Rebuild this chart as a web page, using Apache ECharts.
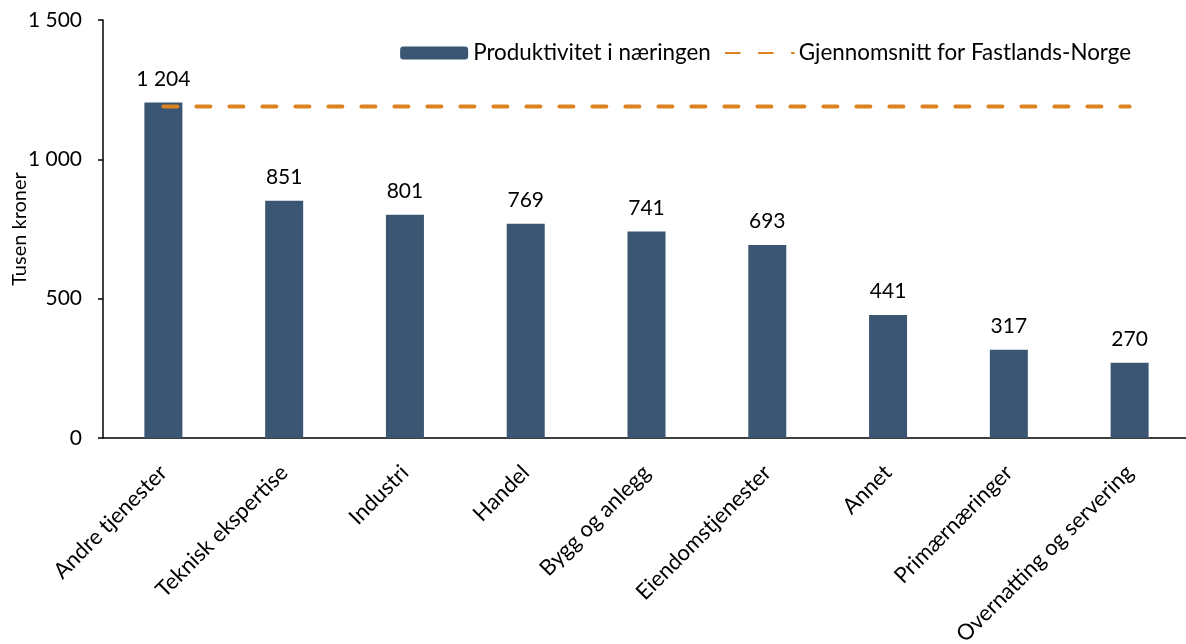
<!DOCTYPE html>
<html>
<head>
<meta charset="utf-8">
<script src="https://cdn.jsdelivr.net/npm/echarts@6/dist/echarts.min.js"></script>
<style>
  html, body { margin: 0; padding: 0; background: #fff; }
  #chart { width: 1186px; height: 644px; }
</style>
</head>
<body>
<div id="chart"></div>
<script>
// kategorier og verdier (tusen kroner)
const categories = ['Andre tjenester', 'Teknisk ekspertise', 'Industri', 'Handel', 'Bygg og anlegg',
  'Eiendomstjenester', 'Annet', 'Primærnæringer', 'Overnatting og servering']
const productivity = [1204, 851, 801, 769, 741, 693, 441, 317, 270]
const mainlandAvg = [1190, 1190, 1190, 1190, 1190, 1190, 1190, 1190, 1190]

const FONT = 'Lato'
const fmt = v => String(v).replace(/\B(?=(\d{3})+(?!\d))/g, ' ')

const chart = echarts.init(document.getElementById('chart'))

chart.setOption({
  animation: false,
  textStyle: { fontFamily: FONT, color: '#000' },
  legend: {
    top: 37,
    right: 50,
    itemWidth: 68,
    itemHeight: 13,
    itemGap: 14,
    textStyle: { fontSize: 22.4, color: '#000', fontFamily: FONT },
    data: [
      { name: 'Produktivitet i næringen' },
      { name: 'Gjennomsnitt for Fastlands-Norge', itemStyle: { opacity: 0 } }
    ]
  },
  grid: {
    left: 103,
    top: 20,
    width: 1087,
    bottom: 206,
    containLabel: false,
    outerBoundsMode: 'none'
  },
  xAxis: {
    type: 'category',
    data: categories,
    axisLine: { lineStyle: { color: '#000', width: 1.5 } },
    axisTick: { show: false },
    axisLabel: {
      rotate: 45,
      interval: 0,
      margin: 31,
      fontSize: 22,
      color: '#000',
      fontFamily: FONT
    }
  },
  yAxis: {
    type: 'value',
    min: 0,
    max: 1500,
    interval: 500,
    name: 'Tusen kroner',
    nameLocation: 'middle',
    nameGap: 73,
    nameMoveOverlap: false,
    nameTextStyle: { fontSize: 20, color: '#000', fontFamily: FONT },
    splitLine: { show: false },
    axisLine: { show: true, lineStyle: { color: '#000', width: 1.5 } },
    axisTick: { show: true, inside: false, length: 5, lineStyle: { color: '#000', width: 1.5 } },
    axisLabel: {
      fontSize: 21,
      color: '#000',
      margin: 21,
      fontFamily: FONT,
      formatter: fmt
    }
  },
  series: [{
    type: 'bar',
    name: 'Produktivitet i næringen',
    data: productivity,
    barWidth: 38,
    itemStyle: { color: '#3b5673' },
    label: {
      show: true,
      position: 'top',
      distance: 13,
      fontSize: 21,
      color: '#000',
      fontFamily: FONT,
      formatter: p => fmt(p.value)
    }
  }, {
    type: 'line',
    name: 'Gjennomsnitt for Fastlands-Norge',
    data: mainlandAvg,
    symbol: 'none',
    z: 5,
    lineStyle: { color: '#dc8220', width: 4, type: [14, 19], cap: 'round' },
    itemStyle: { color: '#dc8220' }
  }]
})
</script>
</body>
</html>
